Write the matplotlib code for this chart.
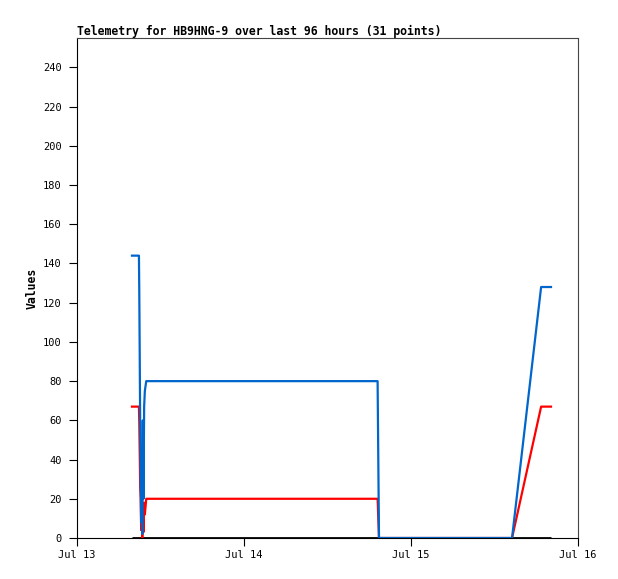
import datetime as dt
import matplotlib
matplotlib.use("Agg")
import matplotlib.pyplot as plt
import matplotlib.dates as mdates

# hours after Jul 13 00:00 for each telemetry packet (31 points)
hours = [7.90, 8.90, 8.95, 9.02, 9.08, 9.15, 9.22, 9.30, 9.38, 9.46,
         9.55, 9.65, 9.75, 9.95, 15.0, 22.0, 29.0, 36.0, 43.20, 43.30,
         43.40, 47.0, 51.0, 55.0, 58.0, 61.0, 62.52, 66.70, 67.20, 67.70,
         68.12]
blue_vals = [144, 144, 126, 90, 58, 30, 8, 45, 2, 60,
             20, 67, 75, 80, 80, 80, 80, 80, 80, 40,
             0, 0, 0, 0, 0, 0, 0, 128, 128, 128,
             128]
red_vals = [67, 67, 59, 42, 26, 20, 4, 14, 0, 12,
            3, 18, 12, 20, 20, 20, 20, 20, 20, 10,
            0, 0, 0, 0, 0, 0, 0, 67, 67, 67,
            67]
black_vals = [0] * 31

start = dt.datetime(2023, 7, 13)
times = [start + dt.timedelta(hours=h) for h in hours]

fig = plt.figure(figsize=(6.18, 5.79), dpi=100)
ax = fig.add_axes([77 / 618, 1 - 538 / 579, 501 / 618, 500 / 579])

ax.plot(times, black_vals, color="black", lw=2.0, solid_capstyle="butt")
ax.plot(times, red_vals, color="#ff0000", lw=1.6)
ax.plot(times, blue_vals, color="#0066cc", lw=1.6)

ax.set_xlim(start, start + dt.timedelta(days=3))
ax.set_ylim(0, 255)
ax.set_yticks(range(0, 241, 20))
ax.xaxis.set_major_locator(mdates.DayLocator())
ax.xaxis.set_major_formatter(mdates.DateFormatter("%b %d"))

mono = "DejaVu Sans Mono"
for lab in ax.get_xticklabels() + ax.get_yticklabels():
    lab.set_fontfamily(mono)
    lab.set_fontsize(7.5)
ax.tick_params(direction="out", length=6, width=0.8)
ax.tick_params(axis="x", pad=3)
ax.tick_params(axis="y", pad=5)

for side in ("top", "right"):
    ax.spines[side].set_color("#444444")
for side in ("left", "bottom"):
    ax.spines[side].set_color("black")

ax.set_title("Telemetry for HB9HNG-9 over last 96 hours (31 points)",
             loc="left", fontfamily=mono, fontweight="bold", fontsize=8.3, pad=2)
ax.set_ylabel("Values", fontfamily=mono, fontweight="bold", fontsize=8.3, labelpad=3)

fig.savefig("out.png", dpi=100)
